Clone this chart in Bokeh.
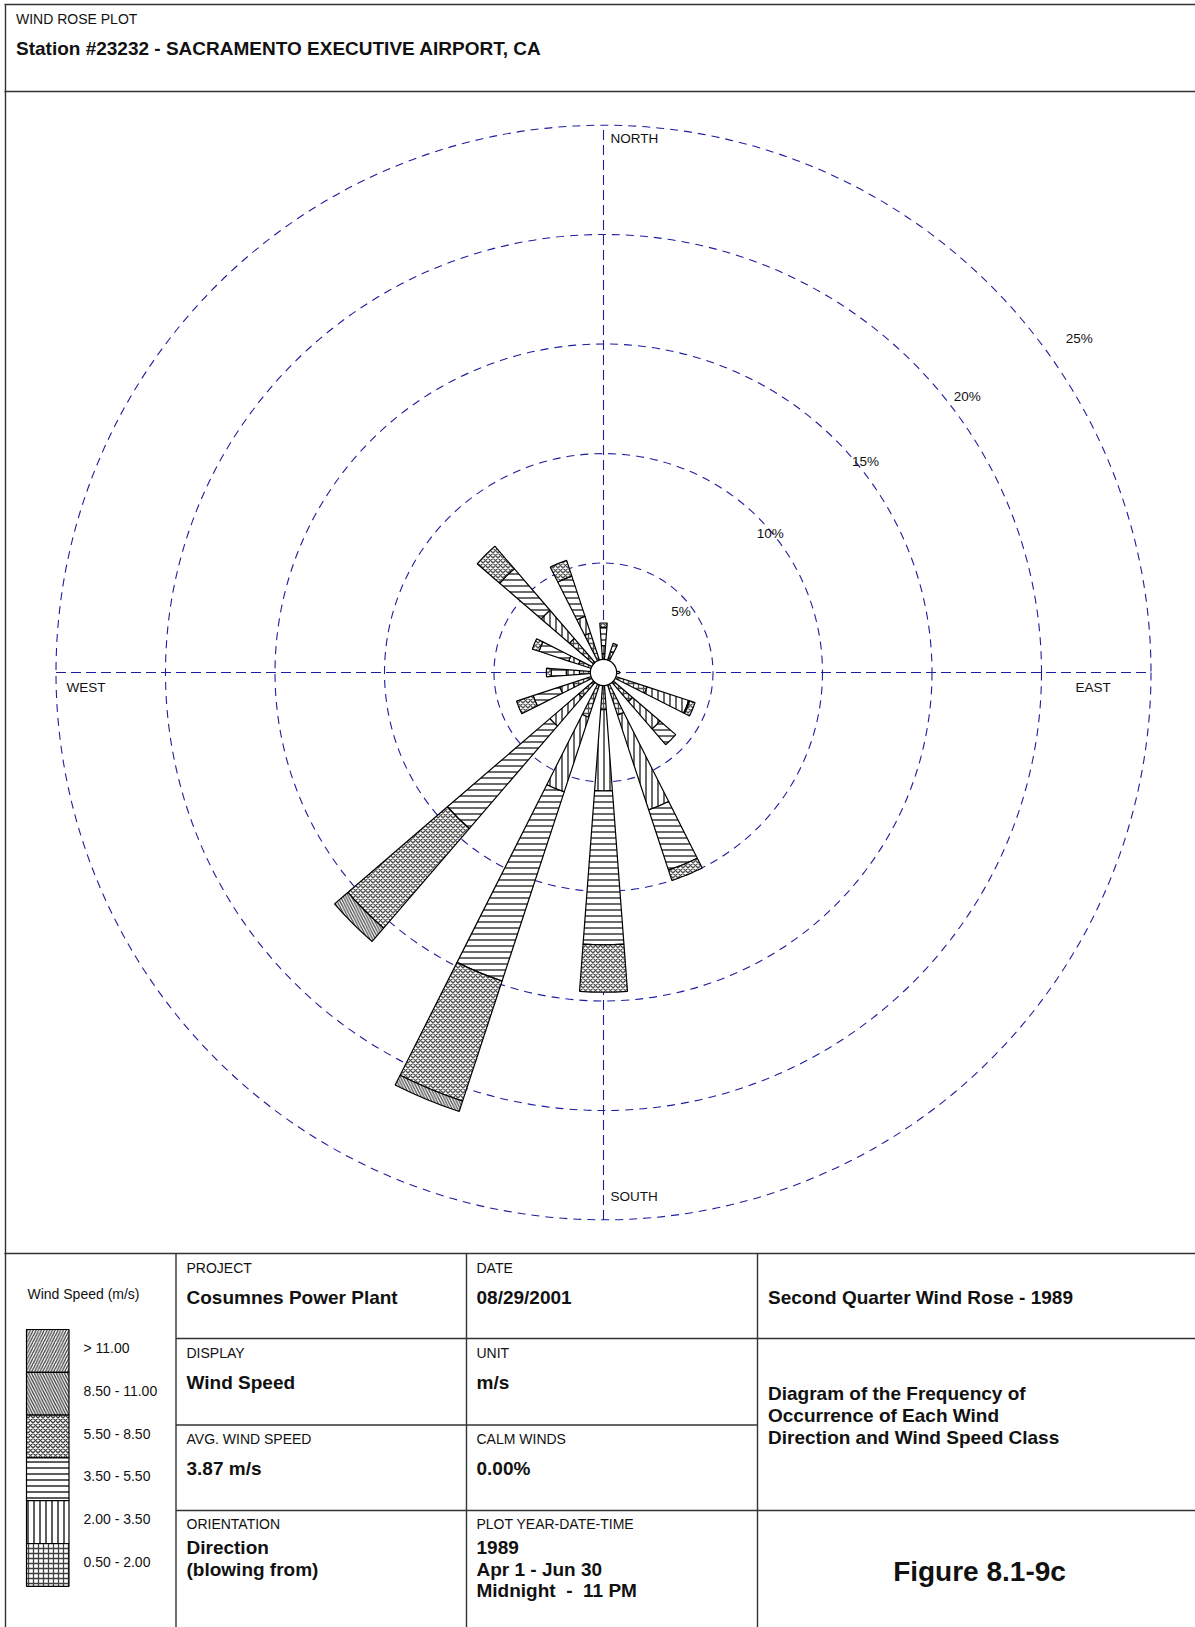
import math
from bokeh.plotting import figure
from bokeh.models import Range1d, ColumnDataSource
from bokeh.core.properties import value
from bokeh.embed import file_html
from bokeh.resources import INLINE

# ---------------- data ----------------
DIRECTIONS = ["N", "NNE", "NE", "ENE", "E", "ESE", "SE", "SSE",
              "S", "SSW", "SW", "WSW", "W", "WNW", "NW", "NNW"]
BEARINGS = [0.0, 22.5, 45.0, 67.5, 90.0, 112.5, 135.0, 157.5,
            180.0, 202.5, 225.0, 247.5, 270.0, 292.5, 315.0, 337.5]

SPEED_CLASSES = ["0.50 - 2.00", "2.00 - 3.50", "3.50 - 5.50",
                 "5.50 - 8.50", "8.50 - 11.00", "> 11.00"]

# frequency (% of all hours) per direction, one list per wind-speed class
PCT_05_20 = [0.86, 0.70, 0.45, 0.50, 0.60, 2.10, 1.75, 2.05, 1.70, 2.15, 1.50, 1.47, 1.10, 1.20, 2.05, 1.90]
PCT_20_35 = [0.37, 0.30, 0.00, 0.00, 0.12, 2.00, 1.65, 4.55, 3.71, 3.59, 1.73, 0.63, 0.60, 0.47, 1.70, 0.80]
PCT_35_55 = [0.83, 0.40, 0.00, 0.00, 0.00, 0.05, 0.95, 2.90, 7.03, 9.09, 6.17, 1.28, 0.69, 1.43, 2.50, 1.93]
PCT_55_85 = [0.20, 0.00, 0.00, 0.00, 0.00, 0.25, 0.00, 0.50, 2.16, 5.77, 6.00, 0.80, 0.22, 0.32, 1.36, 0.76]
PCT_85_110 = [0.00, 0.00, 0.00, 0.00, 0.00, 0.00, 0.00, 0.00, 0.00, 0.50, 0.80, 0.00, 0.00, 0.00, 0.00, 0.00]
PCT_GT_110 = [0.00] * 16

RING_LEVELS = [5, 10, 15, 20, 25]
RING_LABELS = ["5%", "10%", "15%", "20%", "25%"]
COMPASS_LABELS = ["NORTH", "EAST", "SOUTH", "WEST"]

HEADER_SMALL = "WIND ROSE PLOT"
HEADER_TITLE = "Station #23232 - SACRAMENTO EXECUTIVE AIRPORT, CA"
LEGEND_TITLE = "Wind Speed (m/s)"

# ---------------- layout / style ----------------
W, H = 1195, 1627
CX, CY = 603.0, 672.0          # rose centre on the page (px)
PX_PER_PCT = 21.9              # radial scale
HALF_W = 4.3                   # half width of a petal (deg)
CALM_R = 0.6                   # calm circle radius (%)
FONT = value("Liberation Sans")
INK = "#111111"
GRID = "#1e1e9c"
HATCH = "#505050"

PATTERNS = ["+", "|", "-", "x", "\\", "/"]
HSCALES = [5.0, 6.0, 6.0, 5.0, 5.5, 5.5]
HWEIGHTS = [1.3, 1.7, 1.7, 1.4, 1.3, 1.3]

p = figure(width=W, height=H, x_range=Range1d(0, W), y_range=Range1d(H, 0),
           output_backend="svg", toolbar_location=None, min_border=0,
           x_axis_location=None, y_axis_location=None,
           outline_line_color=None, background_fill_color="white",
           border_fill_color="white")
p.grid.visible = False
p.extra_x_ranges = {"rx": Range1d(-CX / PX_PER_PCT, (W - CX) / PX_PER_PCT)}
p.extra_y_ranges = {"ry": Range1d(-(H - CY) / PX_PER_PCT, CY / PX_PER_PCT)}
R = dict(x_range_name="rx", y_range_name="ry")

# ---------------- frame lines ----------------
fx0 = [5, 4, 4, 4, 175.5, 466, 757, 175.5, 175.5, 175.5, 757, 757]
fy0 = [4, 4, 91, 1253, 1253, 1253, 1253, 1338, 1424.5, 1510, 1338, 1510]
fx1 = [5, W, W, W, 175.5, 466, 757, 757, 757, 757, W, W]
fy1 = [H, 4, 91, 1253, H, H, H, 1338, 1424.5, 1510, 1338, 1510]
p.segment(fx0, fy0, fx1, fy1, line_color="#333333", line_width=1.4)

# ---------------- grid ----------------
p.circle(x=[0] * len(RING_LEVELS), y=[0] * len(RING_LEVELS), radius=RING_LEVELS,
         fill_color=None, line_color=GRID, line_width=1.1, line_dash="8 6", **R)
rmax = max(RING_LEVELS)
p.segment(x0=[-rmax, 0], y0=[0, -rmax], x1=[rmax, 0], y1=[0, rmax],
          line_color=GRID, line_width=1.1, line_dash="10 5", **R)

# ---------------- petals ----------------
cum = [0.0] * len(DIRECTIONS)
for vals, pat, hs, hw in zip([PCT_05_20, PCT_20_35, PCT_35_55, PCT_55_85, PCT_85_110, PCT_GT_110],
                             PATTERNS, HSCALES, HWEIGHTS):
    d = dict(x=[], y=[], r0=[], r1=[], a0=[], a1=[])
    for i, v in enumerate(vals):
        if v <= 0:
            continue
        b = BEARINGS[i]
        d["x"].append(0.0)
        d["y"].append(0.0)
        d["r0"].append(cum[i])
        d["r1"].append(cum[i] + v)
        d["a0"].append(math.radians(90 - b - HALF_W))
        d["a1"].append(math.radians(90 - b + HALF_W))
        cum[i] += v
    if not d["x"]:
        continue
    p.annular_wedge(x="x", y="y", inner_radius="r0", outer_radius="r1",
                    start_angle="a0", end_angle="a1", source=ColumnDataSource(d),
                    fill_color="white", line_color="black", line_width=1.2,
                    hatch_pattern=pat, hatch_color=HATCH, hatch_scale=hs,
                    hatch_weight=hw, **R)

p.circle(x=[0], y=[0], radius=CALM_R, fill_color="white", line_color="black",
         line_width=1.2, **R)

# ---------------- rose labels ----------------
p.text(x=[610, 1075, 610, 66], y=[138, 687, 1196, 687], text=COMPASS_LABELS,
       text_font=FONT, text_font_size="13.5px", text_color=INK,
       text_baseline="middle", text_align="left")
p.text(x=[680.5, 769.7, 865, 966.8, 1078.8], y=[611, 533, 460.6, 396, 338],
       text=RING_LABELS, text_font=FONT, text_font_size="13.5px", text_color=INK,
       text_baseline="middle", text_align="center")

# ---------------- header ----------------
p.text(x=[15.5], y=[18], text=[HEADER_SMALL], text_font=FONT, text_font_size="14px",
       text_color=INK, text_baseline="middle")
p.text(x=[15.5], y=[48], text=[HEADER_TITLE], text_font=FONT, text_font_size="19px",
       text_font_style="bold", text_color=INK, text_baseline="middle")

# ---------------- legend ----------------
order = list(range(len(SPEED_CLASSES)))[::-1]     # top: > 11.00
box_top, box_h = 1329.0, 42.8
for k, ci in enumerate(order):
    top = box_top + k * box_h
    p.quad(left=[26], right=[68.5], top=[top], bottom=[top + box_h],
           fill_color="white", line_color="black", line_width=1.2,
           hatch_pattern=PATTERNS[ci], hatch_color="#404040", hatch_scale=HSCALES[ci],
           hatch_weight=HWEIGHTS[ci])
p.text(x=[83] * len(order), y=[box_top + (k + 0.5) * box_h - 3 for k in range(len(order))],
       text=[SPEED_CLASSES[ci] for ci in order], text_font=FONT, text_font_size="14px",
       text_color=INK, text_baseline="middle")
p.text(x=[83], y=[1293], text=[LEGEND_TITLE], text_font=FONT, text_font_size="14px",
       text_color=INK, text_baseline="middle", text_align="center")

# ---------------- info table ----------------
small_txt = ["PROJECT", "DATE", "DISPLAY", "UNIT", "AVG. WIND SPEED", "CALM WINDS",
             "ORIENTATION", "PLOT YEAR-DATE-TIME"]
small_x = [186, 476, 186, 476, 186, 476, 186, 476]
small_y = [1267.5, 1267.5, 1352, 1352, 1438, 1438, 1523.5, 1523.5]
p.text(x=small_x, y=small_y, text=small_txt, text_font=FONT, text_font_size="14px",
       text_color=INK, text_baseline="middle")

bold_txt = ["Cosumnes Power Plant", "08/29/2001", "Second Quarter Wind Rose - 1989",
            "Wind Speed", "m/s", "3.87 m/s", "0.00%",
            "Diagram of the Frequency of", "Occurrence of Each Wind",
            "Direction and Wind Speed Class",
            "Direction", "(blowing from)", "1989", "Apr 1 - Jun 30",
            "Midnight\u00a0 -\u00a0 11 PM"]
bold_x = [186, 476, 767.5, 186, 476, 186, 476, 767.5, 767.5, 767.5,
          186, 186, 476, 476, 476]
bold_y = [1297, 1297, 1297, 1382, 1382, 1468, 1468, 1393, 1415, 1437,
          1547, 1568.5, 1547, 1568.5, 1590]
p.text(x=bold_x, y=bold_y, text=bold_txt, text_font=FONT, text_font_size="19px",
       text_font_style="bold", text_color=INK, text_baseline="middle")

p.text(x=[979], y=[1571], text=["Figure 8.1-9c"], text_font=FONT, text_font_size="28px",
       text_font_style="bold", text_color=INK, text_baseline="middle", text_align="center")

open("out.html", "w").write(file_html(p, INLINE))
